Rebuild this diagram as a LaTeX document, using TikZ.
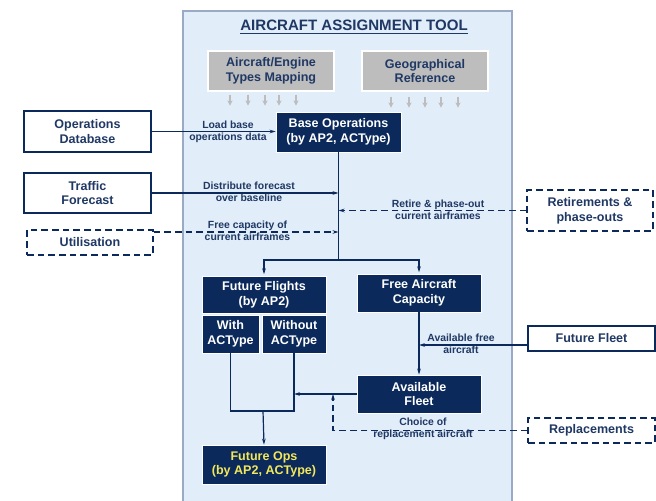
\documentclass[tikz,border=0pt]{standalone}
\usepackage{fontspec}
\setmainfont{Liberation Sans}
\usetikzlibrary{arrows.meta}
\definecolor{navy}{HTML}{0B2A5B}
\definecolor{lblue}{HTML}{E1EDF9}
\definecolor{pane}{HTML}{9AAAC4}
\definecolor{txt}{HTML}{1F3864}
\definecolor{gbox}{HTML}{BDBDBD}
\definecolor{yel}{HTML}{F3E85A}
\tikzset{%
    con/.style={line width=0.9pt, draw=navy},
    cona/.style={con, -{Stealth[scale width=0.8, length=4.5pt]}},
    dcona/.style={cona, line width=1.1pt, dash pattern=on 5pt off 3pt},
    garr/.style={line width=1pt, draw=gbox, -{Stealth[width=4pt, length=4pt]}},
    sz/.style 2 args={minimum width=#1*0.75pt, minimum height=#2*0.75pt},
    box/.style={rectangle, font=\fontsize{9.4}{11}\selectfont\bfseries, align=center, inner sep=0pt, text=txt},
    nbox/.style={box, fill=navy, draw=white, line width=0.6pt, text=white},
    wbox/.style={box, fill=white, draw=navy, line width=1pt},
    dbox/.style={wbox, line width=1.1pt, dash pattern=on 5pt off 3pt},
    gybox/.style={box, fill=gbox, draw=white, line width=1pt},
    lbl/.style={font=\fontsize{7.8}{9.2}\selectfont\bfseries, align=center, text=txt, inner sep=0pt},
}
\begin{document}
\begin{tikzpicture}[x=0.75pt, y=-0.75pt]
    \useasboundingbox (0,0) rectangle (656,500);
    \draw[fill=lblue, draw=pane, line width=0.8pt] (183,11) rectangle (512,506);
    \node[font=\fontsize{11.3}{13}\selectfont\bfseries, text=txt] (title) at (354,27) {\underline{AIRCRAFT ASSIGNMENT TOOL}};
    % inputs
    \node[gybox, sz={126}{40}] (acmap) at (271,71) {Aircraft/Engine\\Types Mapping};
    \node[gybox, sz={126}{40}] (georef) at (425,71) {Geographical\\Reference};
    \foreach \dx in {-41,-23,-6,8,25} \draw[garr] (acmap.south) ++(\dx,3) -- ++(0,11);
    \foreach \dx in {-34,-16,0,16,33} \draw[garr] (georef.south) ++(\dx,5) -- ++(0,11);
    \node[wbox, sz={127}{41}] (opsdb) at (87.5,131.5) {Operations\\Database};
    \node[wbox, sz={127}{40}] (traffic) at (87.5,193) {Traffic\\Forecast};
    \node[dbox, sz={126}{25}] (util) at (90,242.5) {Utilisation};
    \node[dbox, sz={126}{41}] (retire) at (590,210.5) {Retirements \&\\phase-outs};
    \node[wbox, sz={127}{25}] (ffleet) at (591.5,338.5) {Future Fleet};
    \node[dbox, sz={127}{25}] (replace) at (591.5,430.5) {Replacements};
    % tool boxes
    \node[nbox, sz={125}{40}] (baseops) at (338.5,132) {Base Operations\\(by AP2, ACType)};
    \node[nbox, sz={124}{37}] (fflights) at (264,294.5) {Future Flights\\(by AP2)};
    \node[nbox, sz={57}{38}] (withac) at (230.5,334) {With\\ACType};
    \node[nbox, sz={64}{38}] (withoutac) at (294,334) {Without\\ACType};
    \node[nbox, sz={124}{38}] (freecap) at (419,293) {Free Aircraft\\Capacity};
    \node[nbox, sz={124}{38}] (avfleet) at (419,394) {Available\\Fleet};
    \node[nbox, sz={124}{39}, text=yel] (futops) at (264,464.5) {Future Ops\\(by AP2, ACType)};
    % connectors
    \coordinate (split) at (338.5,260);
    \coordinate (ucap) at (338.5,232);
    \coordinate (ffa) at (419,345);
    \coordinate (ubot) at (263,411);
    \coordinate (chk) at (333,394);
    \draw[cona] (opsdb.east) -- (opsdb.east -| baseops.west);
    \draw[con] (baseops) -- (split);
    \draw[cona] (traffic.east) -- (traffic.east -| split);
    \draw[dcona] (util.north east |- ucap) -- (ucap);
    \draw[dcona] (retire.west) -- (retire.west -| split);
    \draw[cona] (split) -| ([yshift=1pt]fflights.north);
    \draw[cona] (split) -| ([yshift=1pt]freecap.north);
    \draw[cona] (freecap) -- (avfleet);
    \draw[cona] (ffleet.west |- ffa) -- (ffa);
    \draw[con] (withac.south) |- (ubot) -| (withoutac.south);
    \draw[cona] (ubot) -- (futops.north);
    \draw[cona] (avfleet.west) -- (avfleet.west -| withoutac.south);
    \draw[dcona] (replace.west) -| (chk);
    % labels
    \node[lbl] (ldlbl) at (228,131.5) {Load base\\operations data};
    \node[lbl] (dflbl) at (249,192) {Distribute forecast\\over baseline};
    \node[lbl] (fclbl) at (247.5,231) {Free capacity of\\current airframes};
    \node[lbl] (rplbl) at (438,210) {Retire \& phase-out\\current airframes};
    \node[lbl] (aflbl) at (461,344) {Available free\\aircraft};
    \node[lbl] (chlbl) at (423,429) {Choice of\\replacement aircraft};
\end{tikzpicture}
\end{document}
